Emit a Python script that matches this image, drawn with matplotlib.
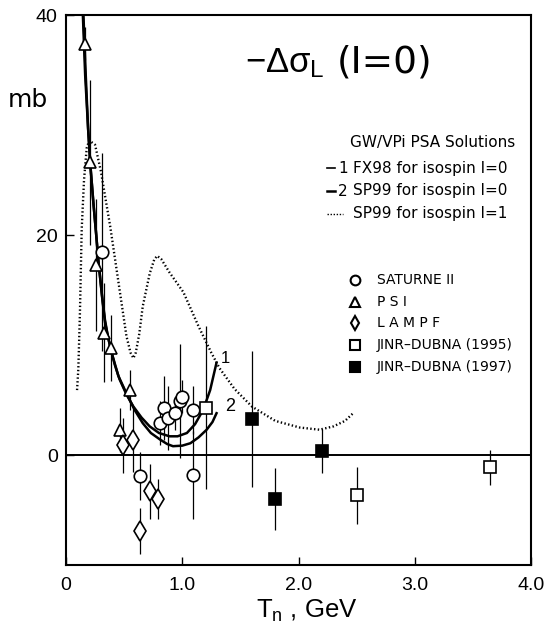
import matplotlib
matplotlib.use("Agg")
import matplotlib.pyplot as plt

plt.rcParams['font.family'] = ['Liberation Sans', 'DejaVu Sans']
plt.rcParams['mathtext.fontset'] = 'custom'
plt.rcParams['mathtext.rm'] = 'Liberation Sans'
plt.rcParams['mathtext.it'] = 'Liberation Sans'

# ---- data ----
# GW/VPI PSA curves
fx98_x = [0.145, 0.165, 0.19, 0.21, 0.235, 0.26, 0.28, 0.31, 0.335, 0.36, 0.39, 0.42, 0.46,
          0.52, 0.58, 0.65, 0.72, 0.80, 0.89, 0.96, 1.04, 1.11, 1.18, 1.24, 1.295]
fx98_y = [40.0, 34.5, 29.7, 26.3, 23.0, 20.0, 17.5, 14.5, 12.3, 10.8, 9.4, 8.2, 6.9,
          5.5, 4.4, 3.4, 2.6, 2.0, 1.7, 1.7, 2.0, 2.8, 4.1, 5.9, 8.4]
sp99_x = [0.15, 0.17, 0.19, 0.21, 0.235, 0.26, 0.28, 0.31, 0.335, 0.36, 0.39, 0.45, 0.52,
          0.59, 0.66, 0.73, 0.81, 0.87, 0.92, 1.0, 1.07, 1.14, 1.21, 1.26, 1.295]
sp99_y = [40.0, 34.5, 29.7, 26.3, 23.0, 20.0, 17.5, 14.4, 12.1, 10.8, 9.4, 7.2, 5.6,
          4.1, 2.9, 2.0, 1.4, 1.0, 0.8, 0.85, 1.07, 1.6, 2.3, 3.0, 3.8]
sp99i1_x = [0.095, 0.106, 0.12, 0.135, 0.155, 0.178, 0.2, 0.25, 0.30, 0.335, 0.38, 0.45, 0.52,
            0.555, 0.58, 0.60, 0.63, 0.66, 0.72, 0.76, 0.785, 0.82, 0.89, 1.01, 1.14, 1.25,
            1.32, 1.45, 1.6, 1.8, 2.01, 2.18, 2.3, 2.4, 2.47]
sp99i1_y = [5.9, 7.8, 13.0, 20.5, 25.0, 27.9, 28.6, 28.2, 25.8, 23.6, 20.8, 15.8, 10.8,
            9.3, 8.8, 9.3, 11.0, 13.5, 16.5, 17.8, 18.1, 17.8, 16.6, 14.8, 11.7, 9.3,
            7.9, 6.0, 4.4, 3.1, 2.5, 2.3, 2.6, 3.1, 3.8]

# experimental data
saturne_x = [0.31, 0.636, 0.81, 0.84, 0.88, 0.94, 0.98, 0.995, 1.095, 1.09]
saturne_y = [18.5, -1.9, 2.9, 4.3, 3.35, 3.8, 4.9, 5.3, 4.1, -1.8]
saturne_e = [9.0, 2.2, 2.0, 2.9, 2.9, 1.5, 5.2, 1.5, 2.2, 4.0]

psi_x = [0.163, 0.21, 0.26, 0.33, 0.39, 0.464, 0.55]
psi_y = [37.4, 26.6, 17.3, 11.1, 9.7, 2.3, 5.9]
psi_e = [1.5, 7.5, 6.0, 4.5, 3.0, 2.0, 1.8]

lampf_x = [0.49, 0.58, 0.636, 0.72, 0.79]
lampf_y = [0.9, 1.4, -6.9, -3.3, -4.0]
lampf_e = [2.5, 2.9, 2.1, 2.5, 1.8]

jinr95_x = [1.2, 2.5, 3.65]
jinr95_y = [4.3, -3.65, -1.1]
jinr95_e = [7.4, 2.6, 1.6]

jinr97_x = [1.6, 1.8, 2.2]
jinr97_y = [3.3, -4.0, 0.4]
jinr97_e = [6.2, 2.8, 2.0]

xticks = [0, 1.0, 2.0, 3.0, 4.0]
xticklabels = ["0", "1.0", "2.0", "3.0", "4.0"]
yticks = [0, 20, 40]
yticklabels = ["0", "20", "40"]

legend_title = "GW/VPi PSA Solutions"
legend_nums = ["1", "2", ""]
legend_curves = ["FX98 for isospin I=0", "SP99 for isospin I=0", "SP99 for isospin I=1"]
legend_data = ["SATURNE II", "P S I", "L A M P F", "JINR\u2013DUBNA (1995)", "JINR\u2013DUBNA (1997)"]

# ---- figure ----
fig = plt.figure(figsize=(5.48, 6.27), dpi=100)
ax = fig.add_axes([66/548, 1-565/627, (531-66)/548, (565-15)/627])
ax.set_xlim(0, 4.0)
ax.set_ylim(-10, 40)

ax.axhline(0, color='black', lw=1.4, zorder=1)

ax.plot(fx98_x, fx98_y, color='black', lw=1.8, zorder=2)
ax.plot(sp99_x, sp99_y, color='black', lw=1.8, zorder=2)
ax.plot(sp99i1_x, sp99i1_y, color='black', lw=1.7, ls=(0, (0.6, 1.0)), zorder=2)

ekw = dict(ls='none', ecolor='black', elinewidth=0.9, capsize=0, zorder=3,
           markeredgecolor='black', markeredgewidth=1.2)
ax.errorbar(saturne_x, saturne_y, yerr=saturne_e, marker='o', ms=9, mfc='white', **ekw)
ax.errorbar(psi_x, psi_y, yerr=psi_e, marker='^', ms=9, mfc='white', **ekw)
ax.errorbar(lampf_x, lampf_y, yerr=lampf_e, marker='d', ms=10.5, mfc='white', **ekw)
ax.errorbar(jinr95_x, jinr95_y, yerr=jinr95_e, marker='s', ms=8.5, mfc='white', **ekw)
ax.errorbar(jinr97_x, jinr97_y, yerr=jinr97_e, marker='s', ms=8.5, mfc='black', **ekw)

# curve labels
ax.text(1.33, 8.8, "1", fontsize=12, ha='left', va='center')
ax.text(1.37, 4.4, "2", fontsize=13, ha='left', va='center')

# ticks
ax.set_xticks(xticks)
ax.set_xticklabels(xticklabels, fontsize=14)
ax.set_yticks(yticks)
ax.set_yticklabels(yticklabels, fontsize=14)
ax.tick_params(which='major', direction='in', length=6, width=1.0)
ax.tick_params(axis='x', pad=9)
ax.tick_params(axis='y', pad=6)
for s in ax.spines.values():
    s.set_linewidth(1.5)

fig.text(307/548, 1-618/627, r"T$_\mathregular{n}$ , GeV", fontsize=18.5,
         ha='center', va='baseline')
fig.text(28/548, 1-100/627, "mb", fontsize=18, family='DejaVu Sans', ha='center', va='center')

# title (two pieces)
fig.text(245/548, 1-72/627, r"$-\Delta\sigma_\mathregular{L}$", fontsize=25,
         ha='left', va='baseline')
fig.text(337/548, 1-72/627, "(I=0)", fontsize=27, family='DejaVu Sans',
         ha='left', va='baseline')

# curve legend
lf = dict(fontsize=11, family='DejaVu Sans', va='center')
fig.text(515/548, 1-143/627, legend_title, ha='right', **lf)
rows_y = [168, 191, 214]
for i, (num, lab, yy) in enumerate(zip(legend_nums, legend_curves, rows_y)):
    yf = 1 - yy/627
    if i < 2:
        fig.lines.append(plt.Line2D([327/548, 335/548], [yf, yf], color='black',
                                    lw=1.8 if i == 1 else 1.2, transform=fig.transFigure))
        fig.text(343/548, yf, num, ha='center', **lf)
    else:
        fig.lines.append(plt.Line2D([327/548, 343/548], [yf, yf], color='black',
                                    lw=1.0, ls=(0, (1, 1.2)), transform=fig.transFigure))
    fig.text(353/548, yf, lab, ha='left', **lf)

# marker legend
mk = [('o', 'white', 7), ('^', 'white', 7.5), ('d', 'white', 7), ('s', 'white', 6.5), ('s', 'black', 6.5)]
rows2 = [280, 302, 323, 345, 367]
for (m, fc, ms), lab, yy in zip(mk, legend_data, rows2):
    yf = 1 - yy/627
    fig.lines.append(plt.Line2D([355/548], [yf], marker=m, ms=ms, mfc=fc, mec='black',
                                mew=1.5, ls='none', transform=fig.transFigure))
    fig.text(377/548, yf, lab, ha='left', fontsize=10, family='DejaVu Sans', va='center')

fig.savefig("out.png", dpi=100)
